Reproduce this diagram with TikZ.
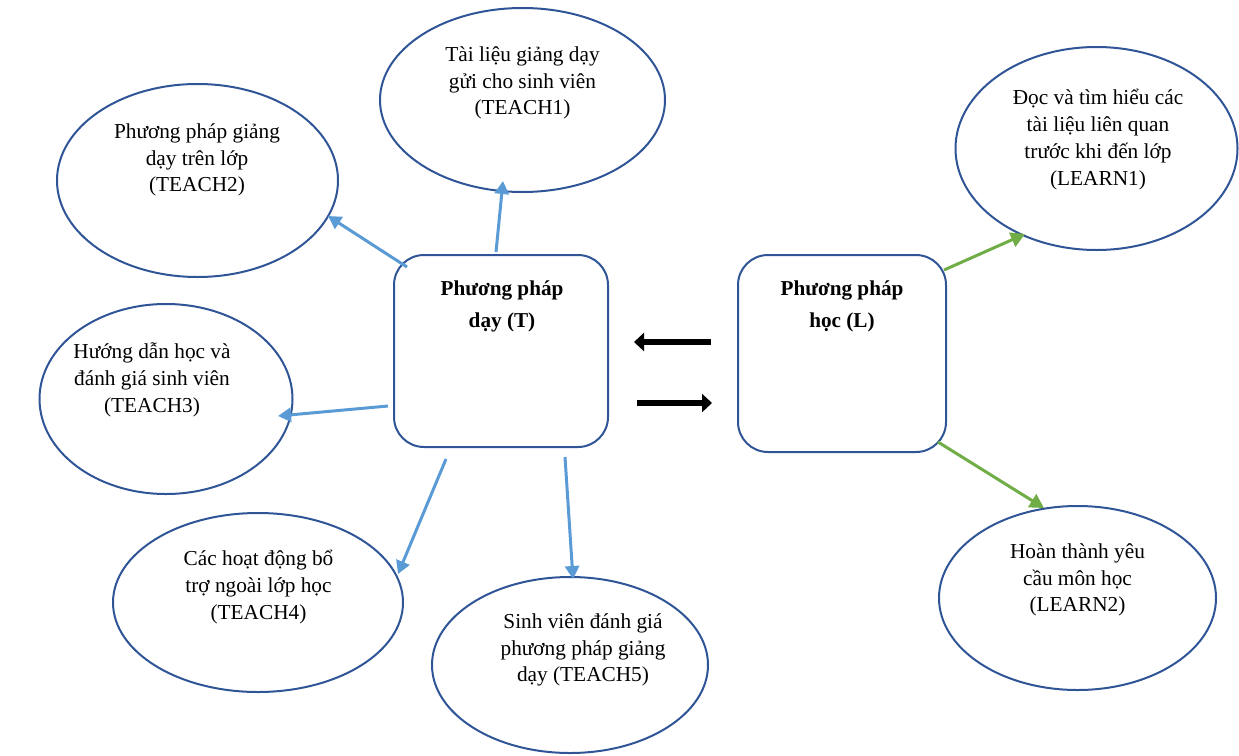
\documentclass[tikz,border=0pt]{standalone}
\usepackage{fontspec}
\setmainfont{Liberation Serif}
\usetikzlibrary{arrows.meta,shapes.geometric}
\definecolor{eblue}{HTML}{2F5597}
\definecolor{ablue}{HTML}{5B9BD5}
\definecolor{agreen}{HTML}{70AD47}
\begin{document}
\begin{tikzpicture}[x=1pt,y=-1pt,
  oval/.style={draw=eblue,line width=2pt,ellipse,inner sep=0pt},
  boxn/.style={draw=eblue,line width=2pt,rounded corners=30pt,inner sep=0pt},
  txt/.style={align=center,font=\fontsize{21.3}{26.8}\selectfont,inner sep=0pt},
  btxt/.style={align=center,font=\fontsize{21.2}{32}\selectfont\bfseries,inner sep=0pt},
  barrow/.style={ablue,line width=3pt,-{Triangle[length=13pt,width=14pt]}},
  garrow/.style={agreen,line width=3pt,-{Triangle[length=14pt,width=15pt]}},
  karrow/.style={black,line width=6pt,-{Triangle[length=10pt,width=18pt]}}]
\useasboundingbox (0,0) rectangle (1239,755);
% ellipses
\node[oval,minimum width=285pt,minimum height=184pt] (e1) at (522.5,100) {};
\node[oval,minimum width=281pt,minimum height=193pt] (e2) at (197.5,180.5) {};
\node[oval,minimum width=253pt,minimum height=190pt] (e3) at (166,399) {};
\node[oval,minimum width=290pt,minimum height=179pt] (e4) at (258,602.5) {};
\node[oval,minimum width=276pt,minimum height=176pt] (e5) at (570,665) {};
\node[oval,minimum width=282pt,minimum height=203pt] (l1) at (1096.5,148.5) {};
\node[oval,minimum width=277pt,minimum height=184pt] (l2) at (1077.5,598) {};
% texts
\node[txt] (t1) at (522.5,83) {Tài liệu giảng dạy\\gửi cho sinh viên\\(TEACH1)};
\node[txt] (t2) at (197,160) {Phương pháp giảng\\dạy trên lớp\\(TEACH2)};
\node[txt] (t3) at (152,380) {Hướng dẫn học và\\đánh giá sinh viên\\(TEACH3)};
\node[txt] (t4) at (258.5,587) {Các hoạt động bổ\\trợ ngoài lớp học\\(TEACH4)};
\node[txt] (t5) at (583,650) {Sinh viên đánh giá\\phương pháp giảng\\dạy (TEACH5)};
\node[txt] (tl1) at (1098,139.5) {Đọc và tìm hiểu các\\tài liệu liên quan\\trước khi đến lớp\\(LEARN1)};
\node[txt] (tl2) at (1077.5,580) {Hoàn thành yêu\\cầu môn học\\(LEARN2)};
% boxes
\node[boxn,minimum width=214pt,minimum height=192pt] (T) at (501,351) {};
\node[boxn,minimum width=208pt,minimum height=197pt] (L) at (842,353.5) {};
\node[btxt] (Tt) at (502,306) {Phương pháp\\dạy (T)};
\node[btxt] (Lt) at (842,306) {Phương pháp\\học (L)};
% arrow endpoints
\coordinate (s2) at (407,267); \coordinate (h2) at (328,216);
\coordinate (s1) at (496,252); \coordinate (h1) at (503,181);
\coordinate (s3) at (388,406); \coordinate (h3) at (278,416);
\coordinate (s4) at (446,459); \coordinate (h4) at (398,574);
\coordinate (s5) at (565,457); \coordinate (h5) at (573,579);
\coordinate (sl1) at (944,270); \coordinate (hl1) at (1025,234);
\coordinate (sl2) at (938,442); \coordinate (hl2) at (1044,508);
\coordinate (ka) at (711,342); \coordinate (kb) at (634,342);
\coordinate (kc) at (637,403); \coordinate (kd) at (712,403);
\draw[barrow] (s2) -- (h2);
\draw[barrow] (s1) -- (h1);
\draw[barrow] (s3) -- (h3);
\draw[barrow] (s4) -- (h4);
\draw[barrow] (s5) -- (h5);
\draw[garrow] (sl1) -- (hl1);
\draw[garrow] (sl2) -- (hl2);
\draw[karrow] (ka) -- (kb);
\draw[karrow] (kc) -- (kd);
\end{tikzpicture}
\end{document}
